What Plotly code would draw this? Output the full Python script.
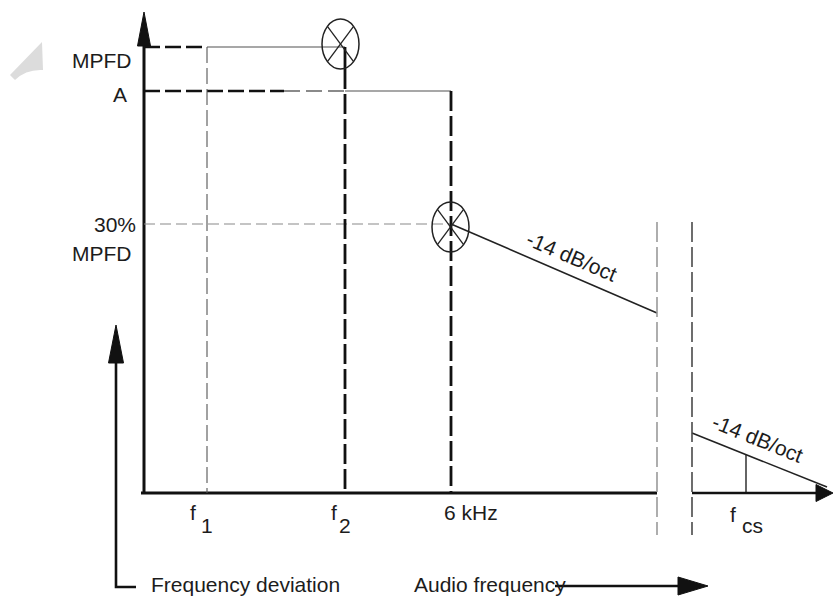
import math
import plotly.graph_objects as go

# ---------------- data (diagram units: x = audio frequency, y = deviation) -------------
freq_names = ["f1", "f2", "6 kHz", "fcs"]
freq_pos = [63, 201, 307, 602]          # positions on the audio-frequency axis
break_pos = [513, 548]                  # axis break (left / right side)
axis_x_end = 689                        # tip of the frequency axis
axis_y_end = 481                        # tip of the deviation axis

level_names = ["MPFD", "A", "30% MPFD"]
level_vals = [446, 402, 269]            # deviation levels

slope1_x = [307, 513]                   # -14 dB/oct before the break
slope1_y = [269, 180]
slope2_x = [548, 683]                   # -14 dB/oct after the break
slope2_y = [60, 6]
fcs_top = 38                            # where the fcs marker meets the slope

marker_x = [196.5, 306.5]               # circled-cross markers
marker_y = [449, 266]

break_y = [271, -42]                    # extent of the break lines
dev_arrow_x = -28                       # "Frequency deviation" legend arrow
dev_arrow_y = [-94, 168]
audio_arrow_y = -93                     # "Audio frequency" legend arrow
audio_arrow_x = [411, 564]

# ---------------- styles ----------------
BLACK = "#111111"
TXT = "#1c1c1c"
GRAY = "#8a8a8a"
DGRAY = "#555555"
FONT = "Liberation Sans, Arial, sans-serif"
FS = 21

fig = go.Figure()


def seg(xs, ys, color=BLACK, width=1.5, dash="solid"):
    fig.add_trace(go.Scatter(x=xs, y=ys, mode="lines", hoverinfo="skip",
                             line=dict(color=color, width=width, dash=dash)))


def head(tip, direction, length, half_w, color=BLACK):
    tx, ty = tip
    dx, dy = direction
    bx, by = tx - dx * length, ty - dy * length
    px, py = -dy, dx
    xs = [tx, bx + px * half_w, bx - px * half_w, tx]
    ys = [ty, by + py * half_w, by - py * half_w, ty]
    fig.add_trace(go.Scatter(x=xs, y=ys, mode="lines", fill="toself",
                             fillcolor=color, hoverinfo="skip",
                             line=dict(color=color, width=1)))


f1, f2, f6k, fcs = freq_pos
mpfd, lev_a, lev30 = level_vals

# main axes
seg([-3, break_pos[0]], [0, 0], BLACK, 3)
seg([break_pos[1], axis_x_end - 16], [0, 0], BLACK, 2.5)
head((axis_x_end, 0), (1, 0), 17, 8.5)
seg([0, 0], [0, axis_y_end - 32], BLACK, 3)
head((0, axis_y_end), (0, 1), 34, 6.5)

# MPFD level
seg([0, f1], [mpfd, mpfd], BLACK, 2.5, "16px,5px")
seg([f1, f2], [mpfd, mpfd], GRAY, 1.5)
# A level
seg([0, 140], [lev_a, lev_a], BLACK, 2.5, "16px,5px")
seg([140, f2], [lev_a, lev_a], GRAY, 2.2, "16px,6px")
seg([f2, f6k], [lev_a, lev_a], GRAY, 1.5)
# 30 % level
seg([0, f6k], [lev30, lev30], GRAY, 1.2, "11px,5px")

# frequency markers
seg([f1, f1], [mpfd, 0], DGRAY, 1.1, "16px,5px")
seg([f2, f2], [mpfd, mpfd - 22], BLACK, 2.8)
seg([f2, f2], [mpfd - 22, 0], BLACK, 2.8, "20px,5px")
seg([f6k, f6k], [lev_a, 0], BLACK, 2.8, "20px,5px")
seg([fcs, fcs], [0, fcs_top], BLACK, 1.3)

# slopes
seg(slope1_x, slope1_y, "#222222", 1.6)
seg(slope2_x, slope2_y, "#222222", 1.6)

# break lines
seg([break_pos[0], break_pos[0]], break_y, "#9a9a9a", 1.6, "20px,5px")
seg([break_pos[1], break_pos[1]], break_y, "#4a4a4a", 1.6, "20px,5px")

# legend arrows
seg([dev_arrow_x + 20, dev_arrow_x, dev_arrow_x], [dev_arrow_y[0], dev_arrow_y[0], dev_arrow_y[1] - 36], BLACK, 2.6)
head((dev_arrow_x, dev_arrow_y[1]), (0, 1), 38, 7.5)
seg([audio_arrow_x[0], audio_arrow_x[1] - 28], [audio_arrow_y, audio_arrow_y], BLACK, 2.6)
head((audio_arrow_x[1], audio_arrow_y), (1, 0), 30, 9)

# circled-cross markers
RX, RY = 18.5, 25
shapes = []
for cx, cy in zip(marker_x, marker_y):
    shapes.append(dict(type="circle", xref="x", yref="y", x0=cx - RX, x1=cx + RX,
                       y0=cy - RY, y1=cy + RY, line=dict(color="#222222", width=1.5)))
    c = math.cos(math.radians(45))
    seg([cx - RX * c, cx + RX * c], [cy + RY * c, cy - RY * c], "#222222", 1.3)
    seg([cx - RX * c, cx + RX * c], [cy - RY * c, cy + RY * c], "#222222", 1.3)

# faint scan artefact at top-left
shapes.append(dict(type="path", xref="x", yref="y",
                   path="M -134,418 L -102,451 L -101,423 Q -118,424 -129,413 Z",
                   fillcolor="#dcdcdc", line=dict(width=0)))

# ---------------- text ----------------
ann = []


def txt(x, y, s, xa="center", ya="middle", angle=0, size=FS):
    ann.append(dict(x=x, y=y, xref="x", yref="y", text=s, showarrow=False,
                    xanchor=xa, yanchor=ya, textangle=angle,
                    font=dict(family=FONT, size=size, color=TXT)))


txt(-10, mpfd - 13, level_names[0], xa="right")
txt(-15, lev_a - 3, level_names[1], xa="right")
txt(-6, lev30, "30%", xa="right")
txt(-10, lev30 - 29, "MPFD", xa="right")

txt(f1 - 14, -19, "f")
txt(f1, -32, "1")
txt(f2 - 11, -19, "f")
txt(f2, -32, "2")
txt(f6k + 20, -19, freq_names[2])
txt(fcs - 13, -21, "f")
txt(fcs + 6, -32, "cs")

txt(428, 237, "-14 dB/oct", angle=23)
txt(614, 55, "-14 dB/oct", angle=22)

txt(5, -91, "Frequency deviation", xa="left")
txt(268, -91, "Audio frequency", xa="left")

fig.update_layout(
    width=833, height=597, margin=dict(l=0, r=0, t=0, b=0),
    paper_bgcolor="white", plot_bgcolor="white", showlegend=False,
    xaxis=dict(range=[-144, 689], visible=False, fixedrange=True),
    yaxis=dict(range=[-104, 493], visible=False, fixedrange=True),
    shapes=shapes, annotations=ann,
)

fig.write_html("out.html")
